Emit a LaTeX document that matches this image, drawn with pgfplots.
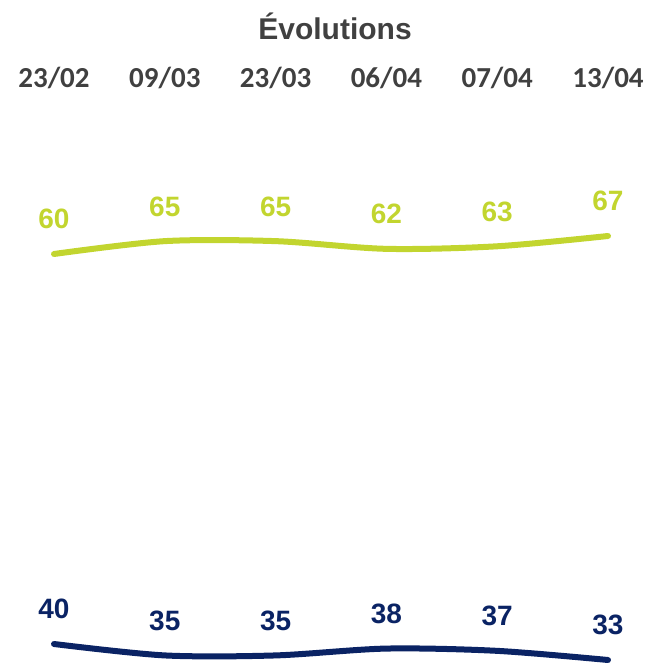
\documentclass[border=0pt]{standalone}
\usepackage{pgfplots}
\pgfplotsset{compat=1.18}
\usepackage{fontspec}
\setmainfont{Liberation Sans}
\newfontfamily\datefont{Carlito}

\definecolor{vert}{RGB}{194,213,47}
\definecolor{marine}{RGB}{10,35,100}
\definecolor{gris}{RGB}{64,64,64}

\pgfplotsset{
  evol/.style={
    scale only axis,
    width=554pt,
    xmin=0, xmax=5,
    clip=false,
    axis line style={draw=none},
    tick style={draw=none},
    ytick=\empty,
    /pgf/number format/assume math mode=true,
    nodes near coords,
    every node near coord/.append style={
      font=\fontsize{28}{30}\selectfont\bfseries,
      anchor=base, yshift=25pt},
  },
}

\begin{document}
\begin{tikzpicture}
  \useasboundingbox (0,0) rectangle (645pt,663pt);

  % titre
  \node[anchor=base, text=gris, font=\fontsize{30}{32}\selectfont\bfseries]
    at (335pt,623pt) {Évolutions};

  % courbe du haut
  \begin{axis}[
    evol,
    at={(54pt,409pt)}, anchor=south west,
    height=18pt,
    ymin=60, ymax=67,
    xtick={0,...,5},
    xticklabels={23/02,09/03,23/03,06/04,07/04,13/04},
    xticklabel pos=upper,
    xticklabel shift=148pt,
    xticklabel style={anchor=base, text=gris,
      font=\datefont\fontsize{29}{32}\selectfont\bfseries},
  ]
  \addplot[vert, line width=6pt, line cap=round, smooth, tension=0.5,
    nodes near coords style={text=vert}]
    coordinates {(0,60) (1,65) (2,65) (3,62) (4,63) (5,67)};
  \end{axis}

  % courbe du bas
  \begin{axis}[
    evol,
    at={(54pt,3pt)}, anchor=south west,
    height=16pt,
    ymin=33, ymax=40,
    xtick=\empty,
  ]
  \addplot[marine, line width=6pt, line cap=round, smooth, tension=0.5,
    nodes near coords style={text=marine}]
    coordinates {(0,40) (1,35) (2,35) (3,38) (4,37) (5,33)};
  \end{axis}
\end{tikzpicture}
\end{document}
